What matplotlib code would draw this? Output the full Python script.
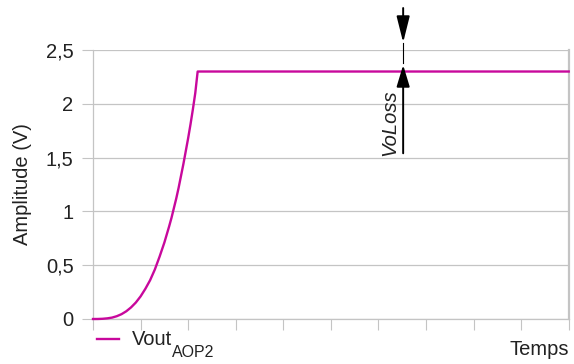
import matplotlib
matplotlib.use("Agg")
import matplotlib.pyplot as plt
from matplotlib.lines import Line2D

plt.rcParams['font.family'] = ['Liberation Sans', 'DejaVu Sans']

# Data
t = [0, 0.1, 0.2, 0.3, 0.4, 0.5, 0.6, 0.7, 0.8, 0.9, 1.0, 1.1, 1.2, 1.3, 1.4, 1.5,
     1.6, 1.65, 1.7, 1.75, 1.8, 1.85, 1.9, 1.95, 2.0, 2.05, 2.1, 2.15, 2.2, 10]
v = [0, 0.0002, 0.002, 0.006, 0.013, 0.026, 0.045, 0.072, 0.108, 0.153, 0.21, 0.28,
     0.36, 0.46, 0.58, 0.71, 0.86, 0.94, 1.03, 1.12, 1.22, 1.33, 1.44, 1.56, 1.68,
     1.81, 1.95, 2.1, 2.3, 2.3]
series_name = "Vout"
series_sub = "AOP2"
yticks = [0, 0.5, 1, 1.5, 2, 2.5]
ytick_labels = ['0', '0,5', '1', '1,5', '2', '2,5']
xticks = list(range(0, 11))
voloss_t = 6.52
voloss_top = 2.5
voloss_level = 2.3

LINE = '#c8089c'
GRID = '#c4c4c4'
FS = 14.5

W, H = 574, 364
fig = plt.figure(figsize=(W / 100, H / 100), dpi=100)
ax = fig.add_axes([93 / W, 45 / H, 475.7 / W, 269 / H])

ax.plot(t, v, color=LINE, lw=1.7, solid_joinstyle='round', zorder=3, clip_on=False)
ax.set_xlim(0, 10)
ax.set_ylim(0, 2.5)

ax.set_yticks(yticks)
ax.set_yticklabels(ytick_labels, fontsize=FS, color='#222222')
ax.set_xticks(xticks)
ax.set_xticklabels([])
ax.tick_params(axis='y', length=8, width=0.8, color=GRID, pad=6)
ax.tick_params(axis='x', length=8, width=0.8, color=GRID, direction='out')
ax.yaxis.grid(True, color=GRID, lw=0.9)
ax.set_axisbelow(True)
ax.spines['top'].set_visible(False)
ax.spines['left'].set_color(GRID)
ax.spines['left'].set_linewidth(0.9)
ax.spines['bottom'].set_color(GRID)
ax.spines['bottom'].set_linewidth(0.9)
ax.spines['right'].set_color(GRID)
ax.spines['right'].set_linewidth(1.6)

# Y label
ax.text(-0.148, 0.5, 'Amplitude (V)', rotation=90, ha='center', va='center',
        fontsize=FS, color='#222222', transform=ax.transAxes)
# X label
ax.text(1.0, -0.115, 'Temps', ha='right', va='center', fontsize=FS,
        color='#222222', transform=ax.transAxes)

# Legend (manual)
ax.add_line(Line2D([4 / 475.7, 26 / 475.7], [-20 / 269, -20 / 269], color=LINE, lw=1.7,
                   transform=ax.transAxes, clip_on=False))
t1 = ax.text(39 / 475.7, -26 / 269, series_name, ha='left', va='baseline', fontsize=FS,
             color='#222222', transform=ax.transAxes)
ax.annotate(series_sub, xy=(1, 0), xycoords=t1, xytext=(-0.5, -5.5), textcoords='offset points',
            ha='left', va='baseline', fontsize=11.5, color='#222222')

# VoLoss annotation
arrow_kw = dict(arrowstyle='-|>,head_length=0.4,head_width=0.1', mutation_scale=40,
                color='black', lw=1.4, shrinkA=0, shrinkB=0)
ax.annotate('', xy=(voloss_t, voloss_top + 0.07), xytext=(voloss_t, voloss_top + 0.39),
            arrowprops=arrow_kw, annotation_clip=False)
ax.plot([voloss_t, voloss_t], [voloss_top + 0.065, voloss_level + 0.08], color='black', lw=0.8,
        clip_on=False, zorder=4)
ax.annotate('', xy=(voloss_t, voloss_level + 0.06), xytext=(voloss_t, 1.54),
            arrowprops=dict(arrow_kw, arrowstyle='-|>,head_length=0.33,head_width=0.1'),
            annotation_clip=False)
ax.text(6.345, 1.82, 'VoLoss', rotation=90, rotation_mode='anchor', ha='center', va='baseline',
        fontsize=FS, style='italic', color='#222222')

fig.savefig('out.png', dpi=100)
